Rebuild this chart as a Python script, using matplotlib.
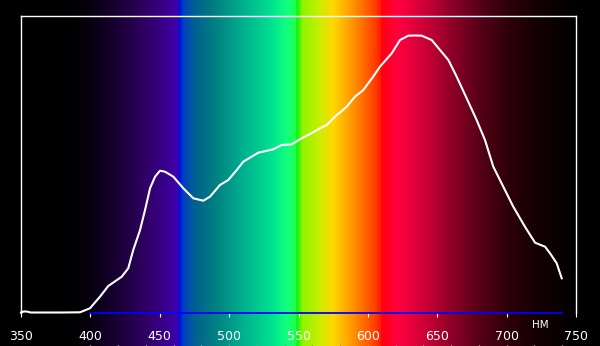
import numpy as np
import matplotlib
matplotlib.use('Agg')
import matplotlib.pyplot as plt
from matplotlib.colors import LinearSegmentedColormap

# Спектр излучения (длина волны, нм -> относительная интенсивность)
wl = [350, 352, 354, 357, 360, 380, 392.5, 399.7, 406.9, 412.9, 422.6, 427.3, 430.9,
      435.8, 439.4, 443.0, 446.6, 450.2, 453.8, 459.8, 467.0, 474.2, 481.4,
      486.2, 493.4, 499.4, 505.5, 510.2, 521.0, 531.8, 537.9, 545.1, 552.3,
      558.3, 565.5, 570.3, 576.3, 584.7, 590.7, 596.7, 603.9, 608.7, 612.3,
      617.2, 623.2, 629.1, 634.0, 638.8, 646.0, 652.0, 658.0, 664.0, 671.2,
      678.4, 684.4, 690.4, 697.6, 704.8, 713.2, 720.5, 727.7, 731.3, 736.1,
      739.7]
intensity = [0.5, 1.5, 1.5, 0.5, 0.5, 0.5, 0.7, 4.7, 16.3, 27, 36.3, 44.7, 63,
             83, 103, 124.7, 136.3, 142.3, 141.3, 136.3, 124.7, 114.7, 112.3,
             116.3, 128, 133, 143, 151.3, 160.3, 163.7, 168, 168.7, 174.7,
             179, 184.7, 188, 196.3, 206.3, 216.3, 223, 236.5, 246.3, 252,
             259.7, 273, 277.3, 277.5, 277.3, 273, 263, 253, 236.3, 214.7,
             193, 173, 146.3, 126.3, 106.3, 86.3, 70.3, 66.3, 59.7, 49.7,
             34.7]

ticks = [350, 400, 450, 500, 550, 600, 650, 700, 750]
minor_ticks = list(range(400, 751, 20))

# Цвета спектра по длине волны
spec_wl = [350, 385, 400, 420, 440, 455, 463, 464, 467, 475, 490, 510, 530, 541,
           548, 549, 553, 565, 575, 590, 605, 609, 610, 622, 640, 660, 680, 700,
           720, 740, 750]
spec_col = ['#000000', '#000000', '#06000f', '#1a0035', '#300065', '#3a0090',
            '#4000b0', '#0010e0', '#0040c0', '#006090', '#008080', '#00b090',
            '#00e090', '#10ff80', '#20ff50', '#10f010', '#90f400', '#c8ee00',
            '#ffd800', '#ff9000', '#ff4000', '#ff2000', '#ff0010', '#ff0040',
            '#d00038', '#900028', '#580018', '#300008', '#160004', '#080000',
            '#000000']

W, H = 600, 346
px_per_nm = 555 / 400.0

fig = plt.figure(figsize=(W / 100, H / 100), dpi=100, facecolor='black')

# фон - спектр на всю высоту картинки
bg = fig.add_axes([0, 0, 1, 1])
bg.set_facecolor('black')
bg.set_xlim(350 - 21 / px_per_nm, 350 + (W - 21) / px_per_nm)
bg.set_ylim(0, H)
pos = [(w - 350) / 400.0 for w in spec_wl]
cmap = LinearSegmentedColormap.from_list('spec', list(zip(pos, spec_col)), N=1024)
grad = np.linspace(0, 1, 1200).reshape(1, -1)
bg.imshow(grad, cmap=cmap, extent=[350, 750, 0, H], aspect='auto', interpolation='bilinear')
for m in minor_ticks:
    bg.plot([m, m], [0, 1.5], color='#909090', lw=0.8)
bg.axis('off')

# основной график
ax = fig.add_axes([21 / W, 33 / H, 555 / W, 297 / H])
ax.patch.set_alpha(0)
ax.set_xlim(350, 750)
ax.set_ylim(0, 297)
ax.plot([400, 740], [0, 0], color='#0000ff', lw=1.3, clip_on=False)
ax.plot(wl, intensity, color='white', lw=1.5, clip_on=False)

for s in ['top', 'left', 'right']:
    ax.spines[s].set_color('white')
    ax.spines[s].set_linewidth(1.0)
ax.spines['bottom'].set_visible(False)
ax.set_xticks(ticks)
ax.set_yticks([])
ax.tick_params(axis='x', colors='white', direction='out', length=3, width=0.8,
               pad=9, labelsize=9)
fig.text(540 / W, 1 - 325.5 / H, 'НМ', color='white', fontsize=7.5,
         ha='center', va='center')

plt.savefig('out.png', dpi=100, facecolor='black')
